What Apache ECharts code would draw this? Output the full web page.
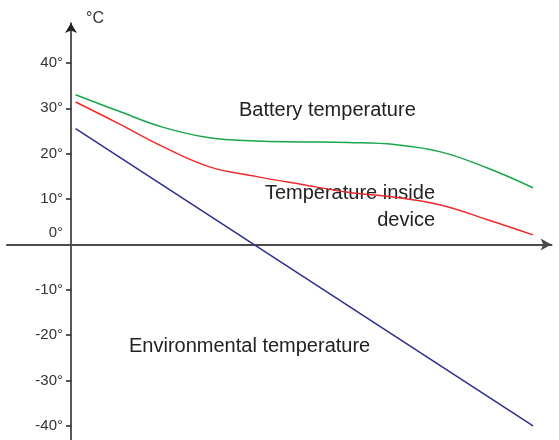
<!DOCTYPE html>
<html>
<head>
<meta charset="utf-8">
<script src="https://cdn.jsdelivr.net/npm/echarts@6/dist/echarts.min.js"></script>
<style>html,body{margin:0;padding:0;background:#fff}#c{width:559px;height:440px}</style>
</head>
<body>
<div id="c"></div>
<script>
const yTicks = [-40, -30, -20, -10, 10, 20, 30, 40];
const yLabels = [-40, -30, -20, -10, 0, 10, 20, 30, 40];
const batteryX = [1, 10, 20, 30, 40, 50, 60, 70, 80, 90, 100];
const batteryY = [33, 29.5, 25.8, 23.5, 22.8, 22.6, 22.45, 22.0, 20.4, 16.9, 12.5];
const insideX = [1, 10, 20, 30, 40, 50, 60, 70, 80, 90, 100];
const insideY = [31.4, 26.8, 21.5, 17.1, 15.0, 13.2, 11.5, 10.4, 8.7, 5.5, 2.1];
const envX = [1, 100];
const envY = [25.5, -40.0];
const font = '"Liberation Sans", Arial, sans-serif';

const zip = (xs, ys) => xs.map((x, i) => [x, ys[i]]);
const chart = echarts.init(document.getElementById('c'), null, {renderer: 'canvas'});
chart.setOption({
  animation: false,
  grid: {left: 7, right: 7.5, top: 23, bottom: 0, outerBoundsMode: 'none', containLabel: false},
  xAxis: {
    type: 'value', min: -13.85, max: 104,
    axisLine: {onZero: true, symbol: ['none', 'arrow'], symbolSize: [9, 11], lineStyle: {color: '#4a4a4a', width: 2}},
    axisTick: {show: false}, axisLabel: {show: false}, splitLine: {show: false}
  },
  yAxis: {
    type: 'value', min: -43.1, max: 48.8,
    axisLine: {onZero: true, symbol: ['none', 'arrow'], symbolSize: [9, 10], lineStyle: {color: '#222', width: 1.5}},
    axisTick: {show: true, length: 5, customValues: yTicks, lineStyle: {color: '#222', width: 1.5}},
    axisLabel: {show: false},
    splitLine: {show: false}
  },
  series: [
    {type: 'line', data: zip(batteryX, batteryY), smooth: 0.4, showSymbol: false, lineStyle: {color: '#1aa64a', width: 1.5}},
    {type: 'line', data: zip(insideX, insideY), smooth: 0.4, showSymbol: false, lineStyle: {color: '#ee2b2b', width: 1.5}},
    {type: 'line', data: zip(envX, envY), showSymbol: false, lineStyle: {color: '#2b2f8c', width: 1.5}}
  ],
  graphic: [
    {type: 'text', left: 86, top: 11, style: {text: '°C', fontSize: 16, fontFamily: font, fill: '#333'}},
    {type: 'text', x: 239, y: 110, style: {text: 'Battery temperature', fontSize: 20, fontFamily: font, fill: '#222', verticalAlign: 'middle', align: 'left'}},
    {type: 'text', x: 435, y: 193, style: {text: 'Temperature inside', fontSize: 20, fontFamily: font, fill: '#222', verticalAlign: 'middle', align: 'right'}},
    {type: 'text', x: 435, y: 220, style: {text: 'device', fontSize: 20, fontFamily: font, fill: '#222', verticalAlign: 'middle', align: 'right'}},
    {type: 'text', x: 129, y: 346, style: {text: 'Environmental temperature', fontSize: 20, fontFamily: font, fill: '#222', verticalAlign: 'middle', align: 'left'}}
  ]
});

// y-axis tick labels, placed through the axis scale
const axisX = chart.convertToPixel({xAxisIndex: 0}, 0);
const labelEls = yLabels.map((v, i) => ({
  type: 'text', id: 'ylab' + i,
  x: axisX - 8,
  y: chart.convertToPixel({yAxisIndex: 0}, v) - (v === 0 ? 12 : 0),
  style: {text: v + '°', fontSize: 15, fontFamily: font, fill: '#333', align: 'right', verticalAlign: 'middle'}
}));
chart.setOption({graphic: labelEls});
</script>
</body>
</html>
